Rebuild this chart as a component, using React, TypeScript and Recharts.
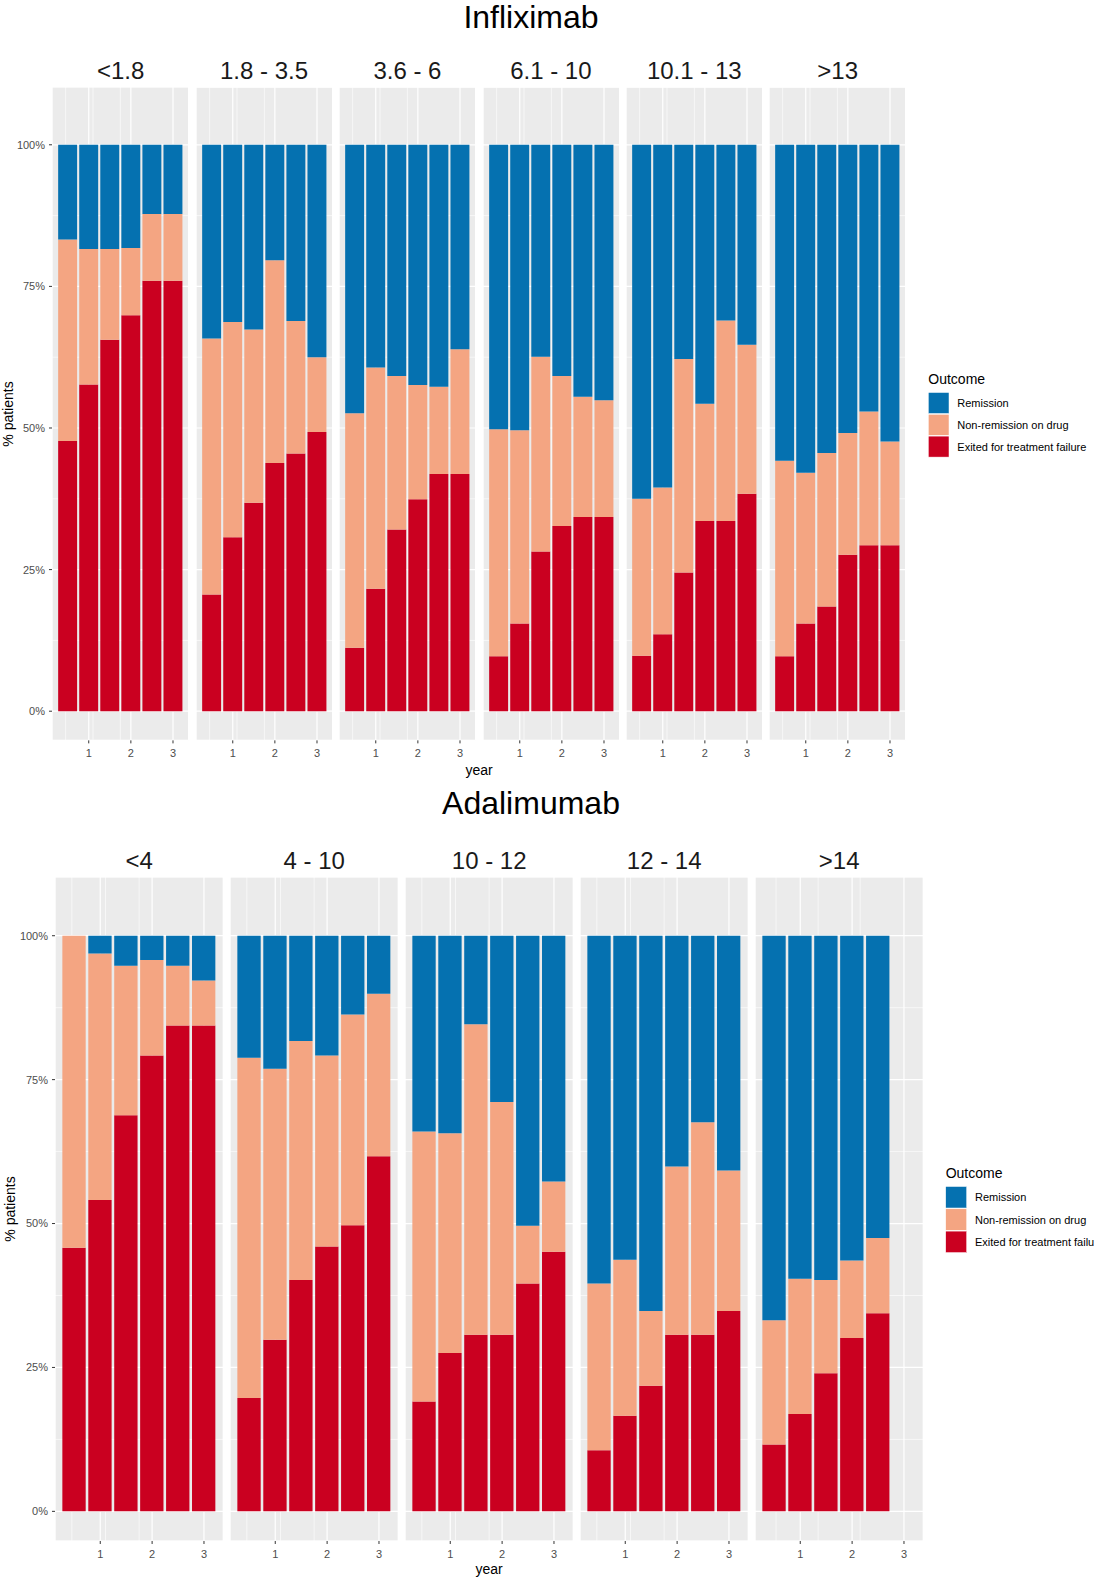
import { BarChart, Bar, XAxis, YAxis, CartesianGrid } from 'recharts';

const FONT = '"Liberation Sans", Arial, sans-serif';

// follow-up time points (years)
const years = [0.5, 1, 1.5, 2, 2.5, 3];

const outcomeLabels = ['Remission', 'Non-remission on drug', 'Exited for treatment failure'];
const outcomeColors = ['#0571B0', '#F4A582', '#CA0020'];

// Infliximab, % patients per facet (rows = facets, cols = time points)
const ifxGroups = ['<1.8', '1.8 - 3.5', '3.6 - 6', '6.1 - 10', '10.1 - 13', '>13'];
const ifxFailure = [
  [47.7, 57.7, 65.6, 69.9, 76.0, 76.0],
  [20.6, 30.7, 36.8, 43.8, 45.5, 49.3],
  [11.2, 21.6, 32.1, 37.4, 41.9, 41.9],
  [9.7, 15.5, 28.2, 32.7, 34.3, 34.3],
  [9.8, 13.6, 24.5, 33.6, 33.6, 38.4],
  [9.7, 15.5, 18.5, 27.6, 29.3, 29.3],
];
const ifxNonRemission = [
  [35.6, 23.9, 16.0, 11.9, 11.8, 11.8],
  [45.2, 38.0, 30.6, 35.8, 23.4, 13.2],
  [41.4, 39.1, 27.1, 20.2, 15.4, 22.0],
  [40.1, 34.1, 34.4, 26.5, 21.2, 20.6],
  [27.7, 25.9, 37.7, 20.7, 35.4, 26.3],
  [34.5, 26.6, 27.1, 21.5, 23.6, 18.3],
];
const ifxRemission = [
  [16.7, 18.4, 18.4, 18.2, 12.2, 12.2],
  [34.2, 31.3, 32.6, 20.4, 31.1, 37.5],
  [47.4, 39.3, 40.8, 42.4, 42.7, 36.1],
  [50.2, 50.4, 37.4, 40.8, 44.5, 45.1],
  [62.5, 60.5, 37.8, 45.7, 31.0, 35.3],
  [55.8, 57.9, 54.4, 50.9, 47.1, 52.4],
];

// Adalimumab
const adaGroups = ['<4', '4 - 10', '10 - 12', '12 - 14', '>14'];
const adaFailure = [
  [45.8, 54.1, 68.8, 79.2, 84.4, 84.4],
  [19.7, 29.8, 40.2, 46.0, 49.7, 61.7],
  [19.1, 27.5, 30.7, 30.7, 39.6, 45.1],
  [10.6, 16.6, 21.8, 30.7, 30.7, 34.8],
  [11.6, 16.9, 24.0, 30.1, 34.4],
];
const adaNonRemission = [
  [54.2, 42.8, 26.0, 16.6, 10.4, 7.8],
  [59.1, 47.1, 41.5, 33.2, 36.6, 28.2],
  [46.9, 38.2, 53.9, 40.4, 10.0, 12.2],
  [29.0, 27.1, 13.0, 29.2, 36.9, 24.4],
  [21.6, 23.5, 16.2, 13.5, 13.1],
];
const adaRemission = [
  [0, 3.1, 5.2, 4.2, 5.2, 7.8],
  [21.2, 23.1, 18.3, 20.8, 13.7, 10.1],
  [34.0, 34.3, 15.4, 28.9, 50.4, 42.7],
  [60.4, 56.3, 65.2, 40.1, 32.4, 40.8],
  [66.8, 59.6, 59.8, 56.4, 52.5],
];

const xTicks = [1, 2, 3];
const xMinorTicks = [0.5, 1.5, 2.5];
const yTicks = [0, 25, 50, 75, 100];
const yMinorTicks = [12.5, 37.5, 62.5, 87.5];

const X_DOMAIN: [number, number] = [0.1275, 3.3725];
const Y_DOMAIN: [number, number] = [-5.15, 110.2];
const Y_AXIS_W = 45;
const X_AXIS_H = 24;

interface FacetProps {
  failure: number[];
  nonRemission: number[];
  remission: number[];
  left: number;
  top: number;
  panelW: number;
  panelH: number;
  first: boolean;
}

const Facet = ({ failure, nonRemission, remission, left, top, panelW, panelH, first }: FacetProps) => {
  const rows = failure.map((f, i) => ({
    year: years[i],
    failure: f,
    nonRemission: nonRemission[i],
    remission: remission[i],
  }));
  const barSize = (0.45 * panelW) / (X_DOMAIN[1] - X_DOMAIN[0]);
  const w = panelW + (first ? Y_AXIS_W : 0);
  const tickStyle = { fontSize: 11, fill: '#4D4D4D', fontFamily: FONT };

  return (
    <div style={{ position: 'absolute', left: left - (first ? Y_AXIS_W : 0), top }}>
      <BarChart width={w} height={panelH + X_AXIS_H} data={rows} margin={{ top: 0, right: 0, bottom: 0, left: 0 }}>
        <CartesianGrid fill="#EBEBEB" stroke="#FFFFFF" strokeWidth={0.6} xAxisId="minor" yAxisId="minor" />
        <CartesianGrid stroke="#FFFFFF" strokeWidth={1.2} />
        <XAxis
          dataKey="year"
          type="number"
          domain={X_DOMAIN}
          allowDataOverflow
          ticks={xTicks}
          height={X_AXIS_H}
          axisLine={false}
          tickSize={3}
          tickMargin={6}
          tickLine={{ stroke: '#333333' }}
          tick={tickStyle}
        />
        <XAxis xAxisId="minor" type="number" domain={X_DOMAIN} allowDataOverflow ticks={xMinorTicks} hide />
        <YAxis
          type="number"
          domain={Y_DOMAIN}
          allowDataOverflow
          ticks={yTicks}
          hide={!first}
          width={Y_AXIS_W}
          axisLine={false}
          tickSize={3}
          tickMargin={4}
          tickLine={{ stroke: '#333333' }}
          tick={tickStyle}
          tickFormatter={(v: number) => `${v}%`}
        />
        <YAxis yAxisId="minor" type="number" domain={Y_DOMAIN} allowDataOverflow ticks={yMinorTicks} hide />
        <Bar dataKey="failure" stackId="s" fill={outcomeColors[2]} barSize={barSize} isAnimationActive={false} />
        <Bar dataKey="nonRemission" stackId="s" fill={outcomeColors[1]} barSize={barSize} isAnimationActive={false} />
        <Bar dataKey="remission" stackId="s" fill={outcomeColors[0]} barSize={barSize} isAnimationActive={false} />
      </BarChart>
    </div>
  );
};

const LegendBox = ({ x, y, keyW, keyH, textX }: { x: number; y: number; keyW: number; keyH: number; textX: number }) => (
  <g>
    <text x={x} y={y} fontSize={14} dominantBaseline="central" fill="#000">Outcome</text>
    {outcomeLabels.map((label, i) => (
      <g key={label}>
        <rect x={x} y={y + 13.5 + i * (keyH + 0.8)} width={keyW} height={keyH} fill={outcomeColors[i]} stroke="#FFFFFF" strokeWidth={0.5} />
        <text x={textX} y={y + 13.5 + i * (keyH + 0.8) + keyH / 2} fontSize={11} dominantBaseline="central" fill="#000">
          {label}
        </text>
      </g>
    ))}
  </g>
);

export default function App() {
  // top block (Infliximab)
  const tLeft = 52.3, tStep = 143.4, tW = 136.7, tTop = 87.3, tH = 653.4;
  // bottom block (Adalimumab)
  const bLeft = 55, bStep = 175, bW = 168.3, bTop = 876.7, bH = 664;

  return (
    <div style={{ position: 'absolute', left: 0, top: 0, width: 1094, height: 1579, overflow: 'hidden', background: '#fff', fontFamily: FONT }}>
      {ifxGroups.map((g, i) => (
        <Facet
          key={g}
          failure={ifxFailure[i]}
          nonRemission={ifxNonRemission[i]}
          remission={ifxRemission[i]}
          left={tLeft + i * tStep}
          top={tTop}
          panelW={tW}
          panelH={tH}
          first={i === 0}
        />
      ))}
      {adaGroups.map((g, i) => (
        <Facet
          key={g}
          failure={adaFailure[i]}
          nonRemission={adaNonRemission[i]}
          remission={adaRemission[i]}
          left={bLeft + i * bStep}
          top={bTop}
          panelW={bW}
          panelH={bH}
          first={i === 0}
        />
      ))}

      <svg width={1094} height={1579} style={{ position: 'absolute', left: 0, top: 0, pointerEvents: 'none', fontFamily: FONT }}>
        <text x={531} y={17} fontSize={32} textAnchor="middle" dominantBaseline="central" fill="#000">Infliximab</text>
        {ifxGroups.map((g, i) => (
          <text key={g} x={tLeft + i * tStep + tW / 2} y={70.5} fontSize={24} textAnchor="middle" dominantBaseline="central" fill="#1A1A1A">
            {g}
          </text>
        ))}
        <text x={479} y={769.5} fontSize={14} textAnchor="middle" dominantBaseline="central" fill="#000">year</text>
        <text x={8} y={414} fontSize={14} textAnchor="middle" dominantBaseline="central" fill="#000" transform="rotate(-90 8 414)">% patients</text>
        <LegendBox x={928.3} y={379} keyW={20.7} keyH={21} textX={957.3} />

        <text x={531} y={803} fontSize={32} textAnchor="middle" dominantBaseline="central" fill="#000">Adalimumab</text>
        {adaGroups.map((g, i) => (
          <text key={g} x={bLeft + i * bStep + bW / 2} y={860} fontSize={24} textAnchor="middle" dominantBaseline="central" fill="#1A1A1A">
            {g}
          </text>
        ))}
        <text x={489} y={1568.5} fontSize={14} textAnchor="middle" dominantBaseline="central" fill="#000">year</text>
        <text x={10} y={1209} fontSize={14} textAnchor="middle" dominantBaseline="central" fill="#000" transform="rotate(-90 10 1209)">% patients</text>
        <LegendBox x={945.7} y={1173} keyW={21} keyH={21.5} textX={975} />
      </svg>
    </div>
  );
}
